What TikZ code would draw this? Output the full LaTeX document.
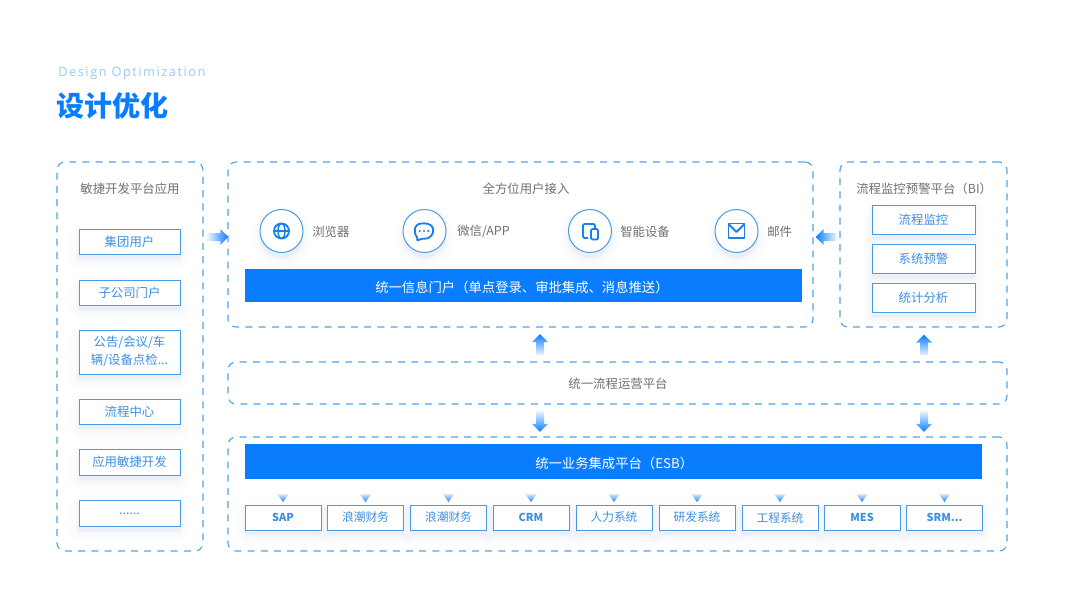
\documentclass[tikz,border=0pt]{standalone}
\usepackage{fontspec}
\setmainfont{Noto Sans CJK SC}
\newfontfamily\latinlight[LetterSpace=12]{Open Sans}
\usetikzlibrary{shapes.arrows,shapes.geometric,shadings}
\definecolor{dashc}{HTML}{4FA3EA}
\definecolor{barc}{HTML}{0A7DFF}
\definecolor{boxc}{HTML}{4A9BE6}
\definecolor{boxt}{HTML}{3D8FE0}
\definecolor{grayt}{HTML}{707070}
\definecolor{icon}{HTML}{1B80E8}
\definecolor{pale}{HTML}{D5E9FC}
\definecolor{shc}{HTML}{5F8FC8}
\newcommand\tx[1]{\raisebox{-.7pt}{#1}}
\tikzset{
  x=0.75pt,y=-0.75pt,
  wh/.style 2 args={minimum width=#1*0.75pt,minimum height=#2*0.75pt,inner sep=0pt},
  softshadow/.style={
    preaction={draw=shc,fill=shc,opacity=.012,line width=13pt,line join=round,transform canvas={yshift=-4.5pt}},
    preaction={draw=shc,fill=shc,opacity=.014,line width=9pt,line join=round,transform canvas={yshift=-4.5pt}},
    preaction={draw=shc,fill=shc,opacity=.018,line width=5pt,line join=round,transform canvas={yshift=-4pt}},
    preaction={draw=shc,fill=shc,opacity=.02,line width=2pt,line join=round,transform canvas={yshift=-3pt}}},
  zone/.style={draw=dashc,line width=0.85pt,dash pattern=on 5.2pt off 4.7pt,rounded corners=6pt,fill=white},
  item/.style={softshadow,draw=boxc,line width=0.75pt,fill=white,text=boxt,align=center,
    font=\fontsize{9.3pt}{13.5pt}\selectfont},
  bar/.style={fill=barc},
  bartext/.style={anchor=west,text=white,inner sep=0pt,font=\fontsize{10pt}{12pt}\selectfont},
  label/.style={text=grayt,inner sep=0pt,font=\fontsize{9.3pt}{12pt}\selectfont},
  disc/.style={softshadow,circle,draw=boxc,line width=0.75pt,fill=white,minimum size=43*0.75pt,inner sep=0pt},
  blockarrow/.style={single arrow,inner sep=2.8pt,minimum width=11.5pt,minimum height=15.5pt,
    single arrow head extend=2.9pt,single arrow tip angle=90},
  minitri/.style={isosceles triangle,isosceles triangle stretches,shape border rotate=-90,inner sep=0pt,
    minimum width=8.5pt,minimum height=6pt,top color=pale,bottom color=icon},
  ic/.style={draw=icon,line width=1.4pt,line join=round}
}
\begin{document}
\begin{tikzpicture}
\useasboundingbox (0,0) rectangle (1080,608);
% title
\node[anchor=west,inner sep=0pt,text=pale!55!dashc,font=\fontsize{9.6pt}{11pt}\latinlight] (sub) at (58,73.5) {Design Optimization};
\node[anchor=west,inner sep=0pt,text=barc,font=\fontsize{21pt}{24pt}\selectfont\bfseries] (title) at (56,105.5) {设计优化};
% zones
\node[zone,wh={146}{389}] (zl) at (130,356.5) {};
\node[zone,wh={585}{165}] (zt) at (520.5,244.5) {};
\node[zone,wh={167}{165}] (zr) at (923.5,244.5) {};
\node[zone,wh={779}{42}] (zm) at (617.5,383) {};
\node[zone,wh={779}{114}] (zb) at (617.5,494) {};
% left column
\node[label] (ltitle) at (130,189) {敏捷开发平台应用};
\node[item,wh={101}{25}] (l1) at (129.5,241.5) {\tx{集团用户}};
\node[item,wh={101}{25}] (l2) at (129.5,292.5) {\tx{子公司门户}};
\node[item,wh={101}{44}] (l3) at (129.5,352) {\tx{\begin{tabular}{@{}c@{}}公告/会议/车\\辆/设备点检...\end{tabular}}};
\node[item,wh={101}{25}] (l4) at (129.5,411.5) {\tx{流程中心}};
\node[item,wh={101}{26}] (l5) at (129.5,462) {\tx{应用敏捷开发}};
\node[item,wh={101}{25.5}] (l6) at (129.5,513.5) {\tx{......}};
% top zone
\node[label] (ttitle) at (526,189) {全方位用户接入};
\node[disc] (c1) at (281.5,231) {};
\node[disc] (c2) at (424.5,231) {};
\node[disc] (c3) at (590,231) {};
\node[disc] (c4) at (736.5,231) {};
\node[label,anchor=west] (t1) at (312,231.5) {浏览器};
\node[label,anchor=west] (t2) at (457,231.5) {微信/APP};
\node[label,anchor=west] (t3) at (620,231.5) {智能设备};
\node[label,anchor=west] (t4) at (767,231.5) {邮件};
% icons
\draw[ic] (281.5,231) circle[radius=7.5];
\draw[ic,line width=1.1pt] (281.5,231) ellipse[x radius=3.5,y radius=7.5];
\draw[ic,line width=1.1pt] (274,231) -- (289,231);
\draw[ic,rounded corners=0.6pt] (417.5,237.5) .. controls (414,234.5) and (414,226.5) .. (418,224.5) .. controls (421,223) and (428,223) .. (431,225.5) .. controls (435,229) and (433,236) .. (428,238) .. controls (426,238.7) and (424,238.8) .. (422.5,238.6) -- (417,240.5) -- cycle;
\fill[icon] (419.7,231) circle[radius=1.2] (424,231) circle[radius=1.2] (428.3,231) circle[radius=1.2];
\draw[ic,rounded corners=1pt] (588,238) -- (583,238) -- (583,224) -- (595,224) -- (595,228);
\draw[ic,fill=white,rounded corners=1pt] (591,229) rectangle (598,239.5);
\draw[ic] (728.5,223.5) rectangle (744.5,238);
\draw[ic] (728.5,224) -- (736.5,232) -- (744.5,224);
\node[bar,wh={557}{33}] (portal) at (523.5,285.5) {};
\node[bartext] (portalt) at (375,287.5) {统一信息门户（单点登录、审批集成、消息推送）};
% right zone
\node[label,anchor=west] (rtitle) at (856,189) {流程监控预警平台（BI）};
\node[item,wh={103}{28.5}] (r1) at (923.5,220.2) {\tx{流程监控}};
\node[item,wh={103}{28.5}] (r2) at (923.5,259.2) {\tx{系统预警}};
\node[item,wh={103}{28.5}] (r3) at (923.5,298.2) {\tx{统计分析}};
% middle
\node[label] (mt) at (618,384) {统一流程运营平台};
% bottom zone
\node[bar,wh={737}{35}] (esb) at (613.5,461.5) {};
\node[bartext] (esbt) at (535,463.5) {统一业务集成平台（ESB）};
\foreach \n/\cx/\txt in {1/283/{\fontsize{8.2pt}{11pt}\selectfont\bfseries SAP},2/365.5/浪潮财务,3/448.5/浪潮财务,4/531/{\fontsize{8.2pt}{11pt}\selectfont\bfseries CRM},5/614/人力系统,6/697/研发系统,7/780/工程系统,8/862/{\fontsize{8.2pt}{11pt}\selectfont\bfseries MES},9/944.5/{\fontsize{8.2pt}{11pt}\selectfont\bfseries SRM...}}{
  \node[item,wh={76}{25},font=\fontsize{8.8pt}{11pt}\selectfont] (b\n) at (\cx,517.5) {\tx{\txt}};
  \node[minitri] (m\n) at (\cx,497) {};
}
% block arrows
\node[blockarrow,left color=pale!50!white,right color=barc] (a1) at (216,237) {};
\node[blockarrow,shape border rotate=180,right color=pale!50!white,left color=barc] (a2) at (828,237) {};
\node[blockarrow,shape border rotate=90,top color=barc,bottom color=pale!50!white] (a3) at (540,346.5) {};
\node[blockarrow,shape border rotate=90,top color=barc,bottom color=pale!50!white] (a4) at (924,347) {};
\node[blockarrow,shape border rotate=270,bottom color=barc,top color=pale!50!white] (a5) at (540,419.5) {};
\node[blockarrow,shape border rotate=270,bottom color=barc,top color=pale!50!white] (a6) at (924,419.5) {};
\end{tikzpicture}
\end{document}
